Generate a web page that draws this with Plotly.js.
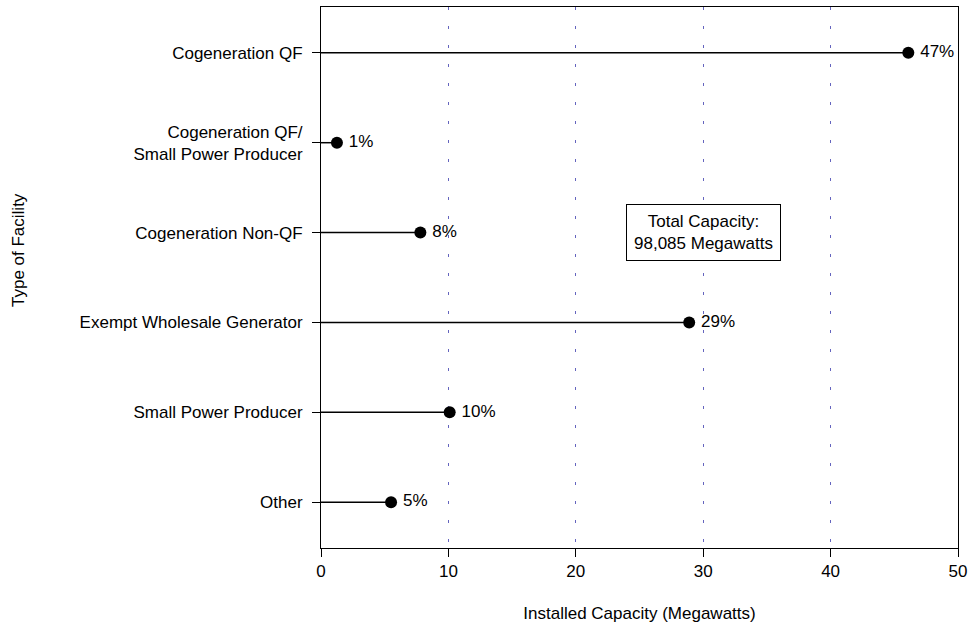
<!DOCTYPE html>
<html>
<head>
<meta charset="utf-8">
<script src="https://cdn.plot.ly/plotly-3.0.1.min.js"></script>
<style>html,body{margin:0;padding:0;background:#fff;}#chart{width:970px;height:629px;}</style>
</head>
<body>
<div id="chart"></div>
<script>
// Data (top to bottom as shown)
const categories = [
  "Cogeneration QF",
  "Cogeneration QF/<br>Small Power Producer",
  "Cogeneration Non-QF",
  "Exempt Wholesale Generator",
  "Small Power Producer",
  "Other"
];
const capacity = [46.1, 1.25, 7.8, 28.9, 10.1, 5.5];
const shareLabels = ["47%", "1%", "8%", "29%", "10%", "5%"];
const xTickVals = [0, 10, 20, 30, 40, 50];
const boxText = "Total Capacity:<br>98,085 Megawatts";
const boxX = 30;
const boxCategory = "Cogeneration Non-QF";
const xTitle = "Installed Capacity (Megawatts)";
const yTitle = "Type of Facility";

const lineX = [], lineY = [];
categories.forEach((c, i) => { lineX.push(0, capacity[i], null); lineY.push(c, c, null); });

const font = {family: "Liberation Sans, Arial, sans-serif", size: 17, color: "#000"};

const traces = [
  {type: "scatter", mode: "lines", x: lineX, y: lineY, line: {color: "#000", width: 1.5},
   hoverinfo: "skip", showlegend: false, cliponaxis: false},
  {type: "scatter", mode: "markers+text", x: capacity, y: categories,
   marker: {color: "#000", size: 12}, text: shareLabels.map(s => "\u2009" + s),
   textposition: "middle right", textfont: font, showlegend: false, cliponaxis: false}
];

const layout = {
  width: 970, height: 629,
  margin: {l: 321, r: 12, t: 7, b: 81},
  paper_bgcolor: "#fff", plot_bgcolor: "#fff",
  font: font,
  xaxis: {
    range: [0, 50], tickvals: xTickVals, ticks: "outside", ticklen: 8, tickcolor: "#000",
    showline: true, linecolor: "#000", linewidth: 1, mirror: true,
    showgrid: true, gridcolor: "rgb(100,100,190)", griddash: "3px,16px", gridwidth: 1,
    zeroline: false, tickfont: font, automargin: false,
    title: {text: xTitle, font: font, standoff: 26}
  },
  yaxis: {
    type: "category", categoryorder: "array", categoryarray: categories.slice().reverse(),
    range: [-0.51, 5.51], ticks: "outside", ticklen: 8, tickcolor: "#000",
    showline: true, linecolor: "#000", linewidth: 1, mirror: true,
    showgrid: false, zeroline: false, tickfont: font, automargin: false,
    ticklabelstandoff: 6
  },
  annotations: [{
    x: boxX, y: boxCategory, xref: "x", yref: "y", text: boxText, showarrow: false,
    font: font, bordercolor: "#000", borderwidth: 1, borderpad: 7, bgcolor: "#fff",
    align: "center"
  }, {
    x: -(321 - 18) / 637, y: 1 - (250 - 7) / 541, xref: "paper", yref: "paper",
    text: yTitle, textangle: -90, showarrow: false, font: font,
    xanchor: "center", yanchor: "middle"
  }]
};

Plotly.newPlot("chart", traces, layout, {displayModeBar: false, staticPlot: true});
</script>
</body>
</html>
